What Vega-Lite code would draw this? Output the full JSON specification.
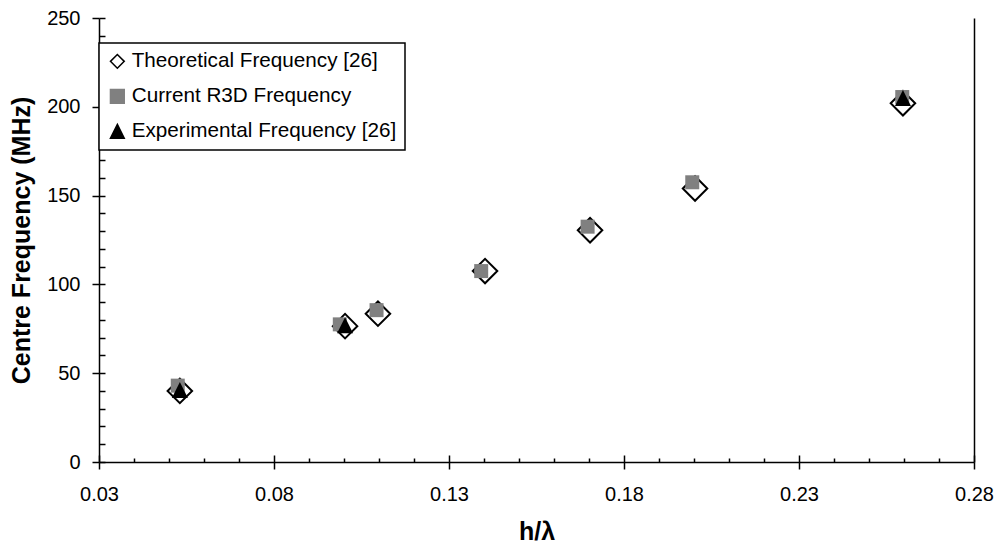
{
  "$schema": "https://vega.github.io/schema/vega-lite/v6.json",
  "width": 875,
  "height": 444,
  "autosize": {"type": "none"},
  "padding": {"left": 99, "top": 18, "right": 26, "bottom": 90},
  "background": "white",
  "config": {
    "view": {"stroke": null},
    "axis": {
      "domainColor": "black", "tickColor": "black", "domainWidth": 1.5, "tickWidth": 1.5,
      "labelColor": "black", "labelFont": "Liberation Sans", "labelFontSize": 20,
      "titleFont": "Liberation Sans", "titleFontSize": 25, "titleFontWeight": "bold", "titleColor": "black",
      "grid": false
    },
    "legend": {
      "title": null, "orient": "none", "legendX": 0, "legendY": 25,
      "fillColor": "white", "strokeColor": "black", "strokeWidth": 1.5,
      "padding": 8, "symbolSize": 190, "symbolStrokeWidth": 1.5,
      "labelFont": "Liberation Sans", "labelFontSize": 20.7, "labelColor": "black",
      "labelOffset": 4, "rowPadding": 13, "labelLimit": 400
    }
  },
  "data": {
    "values": [
      {"s": "Theoretical Frequency [26]", "x": 0.0531, "y": 40},
      {"s": "Theoretical Frequency [26]", "x": 0.1003, "y": 76.5},
      {"s": "Theoretical Frequency [26]", "x": 0.1097, "y": 83.5},
      {"s": "Theoretical Frequency [26]", "x": 0.1403, "y": 107.5},
      {"s": "Theoretical Frequency [26]", "x": 0.1703, "y": 130.5},
      {"s": "Theoretical Frequency [26]", "x": 0.2003, "y": 154},
      {"s": "Theoretical Frequency [26]", "x": 0.2597, "y": 202},
      {"s": "Current R3D Frequency", "x": 0.0525, "y": 43},
      {"s": "Current R3D Frequency", "x": 0.0988, "y": 77.5},
      {"s": "Current R3D Frequency", "x": 0.1093, "y": 85.5},
      {"s": "Current R3D Frequency", "x": 0.1392, "y": 107.5},
      {"s": "Current R3D Frequency", "x": 0.1696, "y": 132.5},
      {"s": "Current R3D Frequency", "x": 0.1995, "y": 157.5},
      {"s": "Current R3D Frequency", "x": 0.2595, "y": 205.5},
      {"s": "Experimental Frequency [26]", "x": 0.0531, "y": 40.5},
      {"s": "Experimental Frequency [26]", "x": 0.1003, "y": 77},
      {"s": "Experimental Frequency [26]", "x": 0.2597, "y": 205}
    ]
  },
  "resolve": {"axis": {"x": "independent", "y": "independent"}},
  "encoding": {
    "shape": {
      "field": "s", "type": "nominal", "sort": null,
      "scale": {"domain": ["Theoretical Frequency [26]", "Current R3D Frequency", "Experimental Frequency [26]"],
                "range": ["diamond", "square", "M0,-1L1,1L-1,1Z"]}
    },
    "fill": {
      "field": "s", "type": "nominal", "sort": null,
      "scale": {"domain": ["Theoretical Frequency [26]", "Current R3D Frequency", "Experimental Frequency [26]"],
                "range": ["white", "#808080", "black"]}
    },
    "stroke": {
      "field": "s", "type": "nominal", "sort": null,
      "scale": {"domain": ["Theoretical Frequency [26]", "Current R3D Frequency", "Experimental Frequency [26]"],
                "range": ["black", "#808080", "black"]}
    }
  },
  "layer": [
    {
      "transform": [{"filter": "datum.s === 'Theoretical Frequency [26]'"}],
      "mark": {"type": "point", "filled": true, "opacity": 1, "size": 600, "strokeWidth": 2},
      "encoding": {
        "x": {
          "field": "x", "type": "quantitative",
          "scale": {"domain": [0.03, 0.28], "nice": false, "zero": false},
          "axis": {"orient": "bottom", "values": [0.03, 0.08, 0.13, 0.18, 0.23, 0.28], "format": ".2f",
                   "tickSize": 7, "labelPadding": 15, "title": "h/λ", "titlePadding": 15, "labelFlush": false}
        },
        "y": {
          "field": "y", "type": "quantitative",
          "scale": {"domain": [0, 250], "nice": false},
          "axis": {"orient": "left", "values": [0, 50, 100, 150, 200, 250], "format": "d",
                   "tickSize": 7, "labelPadding": 12, "title": "Centre Frequency (MHz)", "titlePadding": 12}
        }
      }
    },
    {
      "transform": [{"filter": "datum.s === 'Current R3D Frequency'"}],
      "mark": {"type": "point", "filled": true, "opacity": 1, "size": 196, "strokeWidth": 0},
      "encoding": {
        "x": {"field": "x", "type": "quantitative", "axis": null},
        "y": {"field": "y", "type": "quantitative", "axis": null}
      }
    },
    {
      "transform": [{"filter": "datum.s === 'Experimental Frequency [26]'"}],
      "mark": {"type": "point", "filled": true, "opacity": 1, "size": 256, "strokeWidth": 0},
      "encoding": {
        "x": {"field": "x", "type": "quantitative", "axis": null},
        "y": {"field": "y", "type": "quantitative", "axis": null}
      }
    },
    {
      "mark": {"type": "point", "opacity": 0},
      "encoding": {
        "x": {
          "field": "x", "type": "quantitative",
          "axis": {"orient": "bottom", "domain": false, "labels": false, "title": null,
                   "values": [0.03,0.04,0.05,0.06,0.07,0.08,0.09,0.10,0.11,0.12,0.13,0.14,0.15,0.16,0.17,0.18,0.19,0.20,0.21,0.22,0.23,0.24,0.25,0.26,0.27,0.28],
                   "tickSize": {"condition": {"test": "abs((datum.value - 0.03) / 0.05 - round((datum.value - 0.03) / 0.05)) < 0.01", "value": -7}, "value": -4}}
        },
        "y": {
          "field": "y", "type": "quantitative",
          "axis": {"orient": "left", "domain": false, "labels": false, "title": null,
                   "values": [0,10,20,30,40,50,60,70,80,90,100,110,120,130,140,150,160,170,180,190,200,210,220,230,240,250],
                   "tickSize": -6}
        }
      }
    },
    {
      "mark": {"type": "point", "opacity": 0},
      "encoding": {
        "x": {"field": "x", "type": "quantitative", "axis": null},
        "y": {
          "field": "y", "type": "quantitative",
          "axis": {"orient": "right", "domain": true, "ticks": false, "labels": false, "title": null}
        }
      }
    }
  ]
}
